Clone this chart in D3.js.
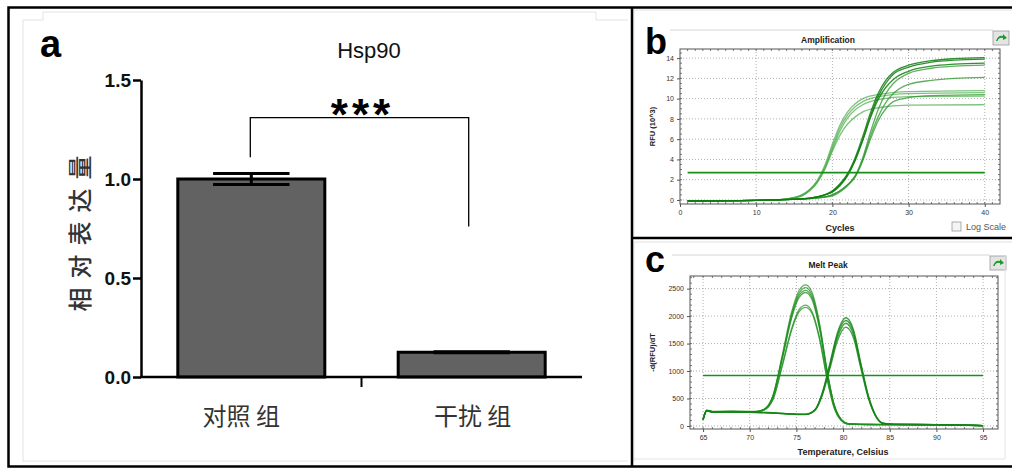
<!DOCTYPE html>
<html>
<head>
<meta charset="utf-8">
<script src="https://cdn.jsdelivr.net/npm/d3@7"></script>
<style>
  body { margin: 0; background: #fff; }
  svg { display: block; }
</style>
</head>
<body>
<svg id="fig" width="1012" height="468"></svg>
<script>
// ---- panel a: bar chart ----
const groups = ["对照 组", "干扰 组"];
const means = [1.0, 0.125];
const sems = [0.028, 0.003];
const barTicks = [0, 0.5, 1.0, 1.5];
const bracket = { top: 1.31, left: 1.11, right: 0.76, label: "***" };

// ---- panel b: amplification curves [cycle, RFU x10^3] ----
const ampEarly = [
  [[1,-0.1],[12,0],[14,0.1],[16,0.5],[17,1.0],[18,1.9],[19,3.4],[20,5.5],[21,7.4],[22,8.7],[23,9.5],[24,10.0],[26,10.4],[30,10.7],[40,10.8]],
  [[1,-0.1],[12,0],[14,0.1],[16,0.5],[17,1.0],[18,1.8],[19,3.2],[20,5.2],[21,7.1],[22,8.4],[23,9.2],[24,9.7],[26,10.2],[30,10.5],[40,10.6]],
  [[1,-0.1],[12,0],[14,0.1],[16,0.4],[17,0.9],[18,1.7],[19,3.1],[20,5.0],[21,6.8],[22,8.1],[23,8.9],[24,9.4],[26,9.9],[30,10.2],[40,10.25]],
  [[1,-0.1],[12,0],[14,0.1],[16,0.4],[17,0.9],[18,1.7],[19,3.0],[20,4.8],[21,6.4],[22,7.5],[23,8.2],[24,8.7],[26,9.1],[30,9.35],[40,9.4]]
];
const ampMid = [
  [[1,-0.1],[12,0],[16,0.1],[18,0.3],[19,0.5],[20,0.9],[21,1.6],[22,2.6],[23,4.2],[24,6.3],[25,8.6],[26,10.5],[27,11.8],[28,12.6],[30,13.3],[33,13.75],[36,13.95],[40,14.05]],
  [[1,-0.1],[12,0],[16,0.1],[18,0.3],[19,0.5],[20,0.8],[21,1.5],[22,2.5],[23,4.0],[24,6.0],[25,8.3],[26,10.2],[27,11.5],[28,12.4],[30,13.1],[33,13.6],[36,13.8],[40,13.9]],
  [[1,-0.1],[12,0],[16,0.1],[18,0.3],[19,0.5],[20,0.8],[21,1.4],[22,2.4],[23,3.9],[24,5.9],[25,8.1],[26,9.9],[27,11.1],[28,11.9],[30,12.7],[33,13.2],[36,13.4],[40,13.5]]
];
const ampLate = [
  [[1,-0.1],[12,0],[16,0.1],[18,0.2],[20,0.5],[21,0.9],[22,1.5],[23,2.4],[24,4.2],[25,6.7],[26,8.9],[27,10.5],[28,11.5],[30,12.5],[33,13.0],[36,13.2],[40,13.3]],
  [[1,-0.1],[12,0],[16,0.1],[18,0.2],[20,0.5],[21,0.9],[22,1.5],[23,2.3],[24,4.0],[25,6.3],[26,8.2],[27,9.6],[28,10.5],[30,11.4],[33,11.8],[36,12.0],[40,12.1]],
  [[1,-0.1],[12,0],[16,0.1],[18,0.2],[20,0.4],[21,0.8],[22,1.4],[23,2.3],[24,3.9],[25,6.0],[26,7.8],[27,9.0],[28,9.7],[30,10.1],[33,10.3],[40,10.4]]
];
const ampThreshold = 2.7;
const ampXTicks = [0, 10, 20, 30, 40];
const ampYTicks = [0, 2, 4, 6, 8, 10, 12, 14];

// ---- panel c: melt peak curves ----
const meltTempsA = [65, 65.4, 66, 68, 70.5, 71.5, 72.5, 73.5, 74.5, 75.3, 76, 76.7, 77.5, 78.3, 79, 79.8, 80.6, 83, 90, 95];
const meltPeakA = [
  [120, 290, 265, 270, 265, 300, 560, 1300, 2080, 2470, 2570, 2420, 1850, 1000, 420, 120, 40, 28, 24, 8],
  [125, 285, 262, 268, 262, 298, 550, 1270, 2040, 2420, 2520, 2370, 1810, 980, 410, 118, 40, 28, 24, 8],
  [115, 280, 255, 262, 258, 295, 540, 1250, 2000, 2380, 2470, 2330, 1780, 960, 400, 115, 38, 27, 23, 7],
  [110, 275, 250, 258, 255, 292, 530, 1230, 1970, 2340, 2430, 2290, 1750, 950, 395, 112, 38, 27, 22, 7],
  [120, 285, 258, 262, 258, 290, 490, 1120, 1780, 2120, 2200, 2070, 1590, 860, 360, 105, 36, 26, 22, 7],
  [118, 280, 255, 260, 255, 288, 485, 1100, 1750, 2080, 2160, 2040, 1560, 845, 355, 102, 35, 26, 21, 6]
];
const meltTempsB = [65, 65.4, 66, 68, 70, 72, 74, 76, 77, 77.8, 78.6, 79.4, 80.3, 81.1, 81.9, 82.7, 83.5, 84.3, 85.5, 90, 95];
const meltPeakB = [
  [120, 285, 262, 260, 255, 245, 225, 215, 300, 620, 1150, 1700, 1970, 1760, 1150, 560, 190, 50, 32, 25, 8],
  [118, 280, 258, 257, 252, 242, 222, 212, 295, 605, 1120, 1660, 1920, 1720, 1120, 545, 185, 48, 31, 24, 8],
  [115, 278, 255, 255, 250, 240, 220, 210, 290, 590, 1090, 1610, 1870, 1670, 1090, 530, 180, 47, 31, 24, 7],
  [112, 275, 252, 252, 248, 238, 218, 208, 285, 570, 1050, 1550, 1800, 1610, 1050, 510, 175, 46, 30, 23, 7]
];
const meltThreshold = 920;
const meltXTicks = [65, 70, 75, 80, 85, 90, 95];
const meltYTicks = [0, 500, 1000, 1500, 2000, 2500];

const svg = d3.select("#fig");
const SANS = "'Liberation Sans', Arial, sans-serif";
const CJK = "'Noto Sans CJK SC', sans-serif";

// ================= panel a =================
function drawBars() {
  const g = svg.append("g");

  // faint screenshot edge
  g.append("path")
    .attr("d", "M23,462 V20 H43 V12 H596 V20 H628")
    .attr("fill", "none").attr("stroke", "#e2e2e2").attr("stroke-width", 1);
  g.append("line").attr("x1", 23).attr("x2", 628).attr("y1", 461).attr("y2", 461)
    .attr("stroke", "#e6e6e6");

  const x = d3.scaleBand().domain(groups).range([141, 582])
    .paddingInner(0.333).paddingOuter(0.167);
  const y = d3.scaleLinear().domain([0, 1.5]).range([377, 80]);

  g.append("text").attr("x", 40).attr("y", 57)
    .style("font-family", SANS).style("font-weight", "bold").style("font-size", "38px")
    .text("a");

  g.append("text").attr("x", 369).attr("y", 58).attr("text-anchor", "middle")
    .style("font-family", SANS).style("font-size", "22px").style("fill", "#111")
    .text("Hsp90");

  // bars
  g.selectAll("rect.bar").data(means).join("rect")
    .attr("class", "bar")
    .attr("x", (d, i) => x(groups[i]))
    .attr("y", d => y(d))
    .attr("width", x.bandwidth())
    .attr("height", d => y(0) - y(d))
    .attr("fill", "#626262").attr("stroke", "#000").attr("stroke-width", 3);

  // error bars
  const capHalf = x.bandwidth() * 0.26;
  const eb = g.selectAll("g.err").data(means).join("g").attr("class", "err");
  eb.append("line")
    .attr("x1", (d, i) => x(groups[i]) + x.bandwidth() / 2)
    .attr("x2", (d, i) => x(groups[i]) + x.bandwidth() / 2)
    .attr("y1", (d, i) => y(d + sems[i])).attr("y2", (d, i) => y(d - sems[i]))
    .attr("stroke", "#000").attr("stroke-width", 3);
  [1, -1].forEach(s => {
    eb.append("line")
      .attr("x1", (d, i) => x(groups[i]) + x.bandwidth() / 2 - capHalf)
      .attr("x2", (d, i) => x(groups[i]) + x.bandwidth() / 2 + capHalf)
      .attr("y1", (d, i) => y(d + s * sems[i])).attr("y2", (d, i) => y(d + s * sems[i]))
      .attr("stroke", "#000").attr("stroke-width", 3);
  });

  // y axis
  g.append("g")
    .attr("transform", "translate(141,0)")
    .call(d3.axisLeft(y).tickValues(barTicks).tickSize(8).tickSizeOuter(0).tickPadding(2)
      .tickFormat(d3.format(".1f")))
    .call(a => a.select(".domain").attr("stroke-width", 2.5))
    .call(a => a.selectAll(".tick line").attr("stroke-width", 2.5))
    .call(a => a.selectAll("text")
      .style("font-family", SANS).style("font-weight", "bold").style("font-size", "19px")
      .style("fill", "#111"));

  // x axis line + middle tick
  g.append("line").attr("x1", 140).attr("x2", 582).attr("y1", y(0)).attr("y2", y(0))
    .attr("stroke", "#000").attr("stroke-width", 2.5);
  const mid = x(groups[1]) - (x.step() - x.bandwidth()) / 2;
  g.append("line").attr("x1", mid).attr("x2", mid).attr("y1", y(0)).attr("y2", y(0) + 10)
    .attr("stroke", "#000").attr("stroke-width", 2);

  g.selectAll("text.xl").data(groups).join("text")
    .attr("class", "xl")
    .attr("x", d => x(d) + x.bandwidth() / 2)
    .attr("dx", (d, i) => i === 0 ? -10 : 1)
    .attr("y", 425).attr("text-anchor", "middle")
    .style("font-family", CJK).style("font-size", "24px").style("fill", "#333")
    .text(d => d);

  g.append("text")
    .attr("transform", "translate(89,229) rotate(-90)")
    .attr("text-anchor", "middle")
    .style("font-family", CJK).style("font-size", "24px").style("font-weight", 500)
    .style("letter-spacing", "9px")
    .style("fill", "#333")
    .text("相对表达量");

  // significance bracket
  const xl = x(groups[0]) + x.bandwidth() / 2 - 1;
  const xr = x(groups[1]) + x.bandwidth() / 2 - 3;
  g.append("path")
    .attr("d", `M${xl},${y(bracket.left)} V${y(bracket.top)} H${xr} V${y(bracket.right)}`)
    .attr("fill", "none").attr("stroke", "#000").attr("stroke-width", 1.3);
  g.append("text").attr("x", (xl + xr) / 2 + 3).attr("y", 130).attr("text-anchor", "middle")
    .style("font-family", SANS).style("font-weight", "bold").style("font-size", "44px")
    .style("letter-spacing", "4px")
    .text(bracket.label);
}

// ================= instrument-style panels (b, c) =================
function drawInstrument(cfg) {
  const g = svg.append("g");
  const { x, y } = cfg;
  const [x0, x1] = x.range();
  const [y0, y1] = y.range(); // y0 bottom, y1 top

  // window edges
  g.append("line").attr("x1", 632).attr("x2", 1012).attr("y1", cfg.outerTop).attr("y2", cfg.outerTop)
    .attr("stroke", "#e0e0e0");
  g.append("line").attr("x1", 634).attr("x2", 634).attr("y1", cfg.outerTop).attr("y2", cfg.outerBottom)
    .attr("stroke", "#e6e6e6");
  g.append("line").attr("x1", cfg.winLeft).attr("x2", cfg.winRight).attr("y1", cfg.winTop).attr("y2", cfg.winTop)
    .attr("stroke", "#d6d6d6");

  // icon
  const ic = g.append("g").attr("transform", `translate(${cfg.winRight},${cfg.winTop + 1})`);
  ic.append("rect").attr("width", 16).attr("height", 14).attr("fill", "#e4e4e4")
    .attr("stroke", "#9a9a9a").attr("stroke-width", 0.8);
  ic.append("path").attr("d", "M3,10 Q5,4 10,5 L10,3 L14,7 L10,9 L10,7 Q6,6 4.5,10 Z")
    .attr("fill", "#1c9a2c");

  // grid
  const grid = g.append("g").attr("stroke", "#9a9a9a").attr("stroke-width", 0.8)
    .attr("stroke-dasharray", "1,2");
  grid.selectAll("line.v").data(cfg.xTicks.filter(t => x(t) > x0 + 3)).join("line")
    .attr("class", "v").attr("x1", d => x(d)).attr("x2", d => x(d)).attr("y1", y1).attr("y2", y0);
  grid.selectAll("line.h").data(cfg.yTicks).join("line")
    .attr("class", "h").attr("y1", d => y(d)).attr("y2", d => y(d)).attr("x1", x0).attr("x2", x1);

  // curves
  const line = d3.line().x(d => x(d[0])).y(d => y(d[1])).curve(d3.curveMonotoneX);
  cfg.series.forEach(s => {
    g.append("g").selectAll("path").data(s.curves).join("path")
      .attr("d", line)
      .attr("fill", "none").attr("stroke", s.color).attr("stroke-opacity", s.opacity)
      .attr("stroke-width", 1.3);
  });
  g.append("line")
    .attr("x1", x(cfg.thresholdFrom)).attr("x2", x(cfg.thresholdTo))
    .attr("y1", y(cfg.threshold)).attr("y2", y(cfg.threshold))
    .attr("stroke", "#189018").attr("stroke-width", 1.6);

  // frame + minor ticks
  g.append("rect").attr("x", x0).attr("y", y1).attr("width", x1 - x0).attr("height", y0 - y1)
    .attr("fill", "none").attr("stroke", "#555").attr("stroke-width", 1);
  const mt = g.append("g").attr("stroke", "#555").attr("stroke-width", 0.8);
  cfg.xMinor.forEach(v => {
    mt.append("line").attr("x1", x(v)).attr("x2", x(v)).attr("y1", y0).attr("y2", y0 - 2);
    mt.append("line").attr("x1", x(v)).attr("x2", x(v)).attr("y1", y1).attr("y2", y1 + 2);
  });
  cfg.yMinor.forEach(v => {
    mt.append("line").attr("y1", y(v)).attr("y2", y(v)).attr("x1", x0).attr("x2", x0 + 2);
    mt.append("line").attr("y1", y(v)).attr("y2", y(v)).attr("x1", x1).attr("x2", x1 - 2);
  });

  // axes
  const tickStyle = a => a.selectAll("text")
    .style("font-family", SANS).style("font-size", "7px").style("fill", "#333");
  g.append("g").attr("transform", `translate(0,${y0})`)
    .call(d3.axisBottom(x).tickValues(cfg.xTicks).tickSize(3).tickPadding(3).tickFormat(d3.format("d")))
    .call(a => a.select(".domain").remove())
    .call(a => a.selectAll(".tick line").attr("stroke", "#555"))
    .call(tickStyle);
  g.append("g").attr("transform", `translate(${x0},0)`)
    .call(d3.axisLeft(y).tickValues(cfg.yTicks).tickSize(3).tickPadding(3).tickFormat(d3.format("d")))
    .call(a => a.select(".domain").remove())
    .call(a => a.selectAll(".tick line").attr("stroke", "#555"))
    .call(tickStyle);

  // labels
  g.append("text").attr("x", 645).attr("y", cfg.letterY)
    .style("font-family", SANS).style("font-weight", "bold").style("font-size", "36px")
    .text(cfg.letter);
  g.append("text").attr("x", 828).attr("y", cfg.titleY).attr("text-anchor", "middle")
    .style("font-family", SANS).style("font-weight", "bold").style("font-size", "8.5px")
    .style("fill", "#222").text(cfg.title);
  g.append("text").attr("x", cfg.xLabelX).attr("y", cfg.xLabelY).attr("text-anchor", "middle")
    .style("font-family", SANS).style("font-weight", "bold").style("font-size", "9px")
    .style("fill", "#222").text(cfg.xLabel);
  g.append("text")
    .attr("transform", `translate(${cfg.yLabelX},${(y0 + y1) / 2}) rotate(-90)`)
    .attr("text-anchor", "middle")
    .style("font-family", SANS).style("font-weight", "bold").style("font-size", "7.5px")
    .style("fill", "#222").text(cfg.yLabel);
  return g;
}

drawBars();

const xB = d3.scaleLinear().domain([0, 42]).range([680, 1000]);
const yB = d3.scaleLinear().domain([-0.4, 14.9]).range([204, 49]);
const gb = drawInstrument({
  x: xB, y: yB,
  xTicks: ampXTicks, yTicks: ampYTicks,
  xMinor: d3.range(1, 42, 1), yMinor: d3.range(0, 14.6, 0.5),
  series: [
    { curves: ampEarly, color: "#47aa47", opacity: 0.7 },
    { curves: ampLate, color: "#2a952a", opacity: 0.75 },
    { curves: ampMid, color: "#0d7d0d", opacity: 0.85 }
  ],
  threshold: ampThreshold, thresholdFrom: 1, thresholdTo: 40,
  outerTop: 10, outerBottom: 236, winLeft: 670, winRight: 993, winTop: 30,
  letter: "b", letterY: 54, title: "Amplification", titleY: 43,
  xLabel: "Cycles", xLabelX: 840, xLabelY: 231,
  yLabel: "RFU (10^3)", yLabelX: 655
});
// log-scale checkbox
gb.append("rect").attr("x", 952).attr("y", 222).attr("width", 9).attr("height", 9)
  .attr("fill", "#f4f4f4").attr("stroke", "#999").attr("stroke-width", 0.8);
gb.append("text").attr("x", 966).attr("y", 230)
  .style("font-family", SANS).style("font-size", "9px").style("fill", "#555").text("Log Scale");

const xC = d3.scaleLinear().domain([63.6, 96.6]).range([690, 998]);
const yC = d3.scaleLinear().domain([-55, 2730]).range([429, 276]);
const gc = drawInstrument({
  x: xC, y: yC,
  xTicks: meltXTicks, yTicks: meltYTicks,
  xMinor: d3.range(64, 97, 1), yMinor: d3.range(0, 2701, 100),
  series: [
    { curves: meltPeakA.map(v => d3.zip(meltTempsA, v)), color: "#1f8f1f", opacity: 0.72 },
    { curves: meltPeakB.map(v => d3.zip(meltTempsB, v)), color: "#148414", opacity: 0.8 }
  ],
  threshold: meltThreshold, thresholdFrom: 65, thresholdTo: 95,
  outerTop: 242, outerBottom: 462, winLeft: 672, winRight: 990, winTop: 255,
  letter: "c", letterY: 272, title: "Melt Peak", titleY: 268,
  xLabel: "Temperature, Celsius", xLabelX: 843, xLabelY: 455,
  yLabel: "-d(RFU)/dT", yLabelX: 655
});
gc.append("path").attr("d", "M1005,256 V459 H634").attr("fill", "none").attr("stroke", "#e4e4e4");

// ================= figure borders =================
const borders = svg.append("g").attr("stroke", "#000").attr("stroke-width", 2.5).attr("fill", "none");
borders.append("path").attr("d", "M1012,7.5 H8.5 V466.5 H1012");
borders.append("line").attr("x1", 632).attr("x2", 632).attr("y1", 7).attr("y2", 467);
borders.append("line").attr("x1", 632).attr("x2", 1012).attr("y1", 238).attr("y2", 238);
</script>
</body>
</html>
